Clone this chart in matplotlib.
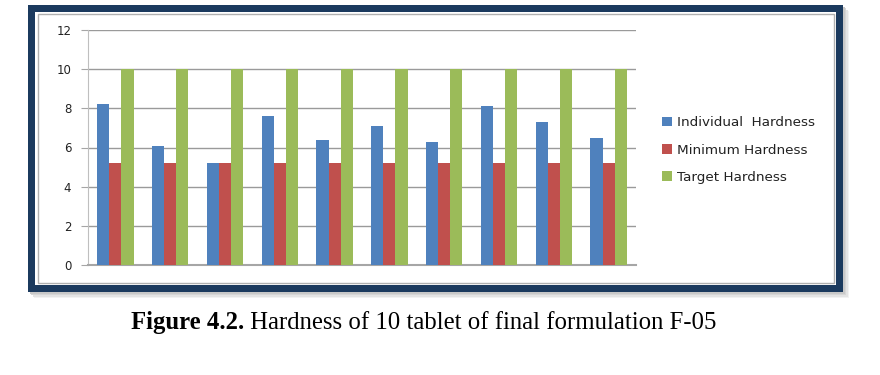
import matplotlib
matplotlib.use("Agg")
import matplotlib.pyplot as plt
from matplotlib.patches import Rectangle, Patch
import numpy as np

categories = ["1", "2", "3", "4", "5", "6", "7", "8", "9", "10"]
individual = [8.2, 6.1, 5.2, 7.6, 6.4, 7.1, 6.3, 8.1, 7.3, 6.5]
minimum = [5.2, 5.2, 5.2, 5.2, 5.2, 5.2, 5.2, 5.2, 5.2, 5.2]
target = [10, 10, 10, 10, 10, 10, 10, 10, 10, 10]
series_names = ["Individual  Hardness", "Minimum Hardness", "Target Hardness"]
yticks = [0, 2, 4, 6, 8, 10, 12]
caption_bold = "Figure 4.2."
caption_rest = " Hardness of 10 tablet of final formulation F-05"

colors = ["#4F81BD", "#C0504D", "#9BBB59"]
W, H = 880, 375
fig = plt.figure(figsize=(W / 100, H / 100), dpi=100)

def px(x0, y0, x1, y1):
    return (x0 / W, 1 - y1 / H), (x1 - x0) / W, (y1 - y0) / H

def rect(x0, y0, x1, y1, **kw):
    xy, w, h = px(x0, y0, x1, y1)
    fig.patches.append(Rectangle(xy, w, h, transform=fig.transFigure, **kw))

# shadow
for i, c in enumerate(["#f2f2f2", "#e4e4e4", "#d6d6d6", "#c8c8c8"]):
    off = 6 - i * 1.5
    rect(28 + off, 5 + off, 843 + off, 292 + off, facecolor=c, edgecolor="none", zorder=0)
# frame
rect(28, 5, 843, 292, facecolor="#1B3A5E", edgecolor="none", zorder=1)
rect(35, 12, 836, 285, facecolor="white", edgecolor="none", zorder=2)
rect(37.5, 14, 833.5, 283, facecolor="none", edgecolor="#b0b0b0", linewidth=1, zorder=3)

ax = fig.add_axes([88 / W, 1 - 265 / H, (636 - 88) / W, (265 - 30) / H])
ax.set_zorder(5)
ax.patch.set_alpha(0)

x = np.arange(1, len(categories) + 1)
bw = 0.222
for off, vals, col in zip([-bw, 0, bw], [individual, minimum, target], colors):
    ax.bar(x + off, vals, width=bw, color=col, edgecolor="none", zorder=3)

ax.set_xlim(0.5, 10.5)
ax.set_ylim(0, 12)
ax.set_yticks(yticks)
ax.set_yticklabels([str(t) for t in yticks], fontsize=8.5, color="#222222")
ax.set_xticks([])
ax.yaxis.grid(True, color="#9a9a9a", linewidth=1)
ax.set_axisbelow(True)
for s in ["top", "right"]:
    ax.spines[s].set_visible(False)
ax.spines["left"].set_color("#bfbfbf")
ax.spines["bottom"].set_color("#a6a6a6")
ax.spines["bottom"].set_linewidth(1.5)
ax.tick_params(axis="y", length=5, color="#a6a6a6", pad=7)

handles = [Patch(facecolor=c, edgecolor="none") for c in colors]
leg = fig.legend(handles, series_names, loc="upper left",
                 bbox_to_anchor=(657 / W, 1 - 111 / H), frameon=False,
                 fontsize=9.7, handlelength=0.7, handleheight=0.7,
                 handletextpad=0.4, labelspacing=1.05, borderaxespad=0)
for t in leg.get_texts():
    t.set_color("#222222")

tb = fig.text(131 / W, 1 - 329 / H, caption_bold, fontsize=17.8, fontweight="bold",
              family="Liberation Serif", va="baseline", ha="left")
fig.canvas.draw()
bb = tb.get_window_extent()
fig.text(bb.x1 / W, 1 - 329 / H, caption_rest, fontsize=17.8,
         family="Liberation Serif", va="baseline", ha="left")

fig.savefig("out.png", dpi=100)
